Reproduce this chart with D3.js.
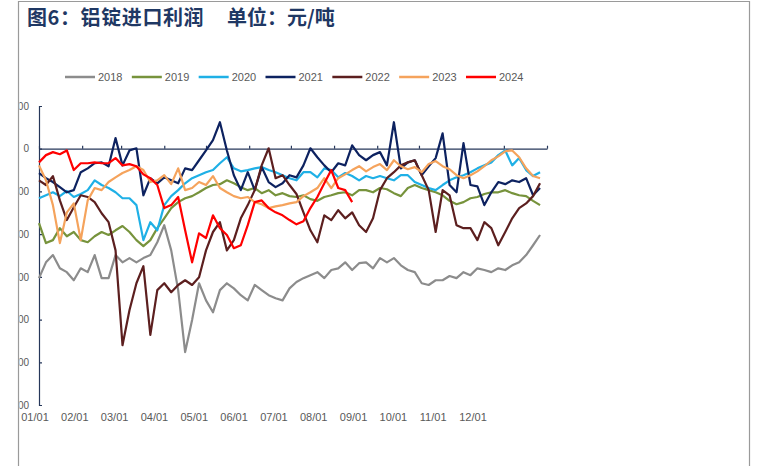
<!DOCTYPE html>
<html><head><meta charset="utf-8">
<script src="https://cdn.jsdelivr.net/npm/d3@7"></script>
<style>body{margin:0;background:#fff;} svg{display:block;}</style>
</head><body><svg id="c" width="759" height="466"></svg>
<script>
// ---------------- data ----------------
const years = ["2018","2019","2020","2021","2022","2023","2024"];
const seriesColors = ["#8c8c8c","#77933c","#1fb0e6","#0d2260","#5c1f1f","#f5a35c","#ff0000"];
const monthLabels = ["01/01","02/01","03/01","04/01","05/01","06/01","07/01","08/01","09/01","10/01","11/01","12/01"];
const yTickValues = [1000,0,-1000,-2000,-3000,-4000,-5000,-6000];
const stepDays = 5; // one value every 5 calendar days from 01/01

const v2018 = [-3030,-2660,-2490,-2800,-2890,-3080,-2800,-2890,-2490,-3030,-3030,-2490,-2660,-2560,-2660,-2560,-2490,-2190,-1790,-2380,-3310,-4760,-4010,-3150,-3550,-3830,-3310,-3150,-3270,-3430,-3550,-3190,-3310,-3430,-3500,-3550,-3270,-3120,-3030,-2960,-2890,-3030,-2840,-2800,-2660,-2840,-2680,-2660,-2800,-2560,-2660,-2560,-2730,-2840,-2890,-3150,-3190,-3080,-3080,-2980,-3030,-2890,-2960,-2800,-2840,-2890,-2800,-2840,-2730,-2660,-2490,-2260,-2020];
const v2019 = [-1740,-2210,-2140,-1860,-2050,-1950,-2140,-2190,-2050,-1950,-2020,-1910,-1810,-1950,-2140,-2280,-2140,-1860,-1630,-1390,-1250,-1160,-1110,-1020,-920,-850,-830,-740,-810,-900,-970,-920,-1040,-970,-1090,-1040,-1110,-1130,-1090,-1180,-1220,-1130,-1090,-1040,-1020,-1090,-970,-970,-1020,-920,-950,-1040,-1110,-920,-850,-920,-970,-1020,-1090,-1220,-1300,-1250,-1160,-1130,-1060,-1020,-1020,-970,-1040,-1090,-1110,-1220,-1320];
const v2020 = [-1160,-1090,-1020,-1110,-990,-1130,-1060,-970,-740,-850,-920,-1020,-1160,-1160,-1320,-2140,-1720,-1910,-1320,-1110,-970,-810,-690,-620,-550,-500,-340,-200,-460,-530,-500,-460,-430,-500,-550,-620,-690,-740,-550,-550,-670,-460,-500,-670,-570,-640,-740,-640,-690,-640,-690,-740,-620,-620,-780,-850,-920,-970,-850,-740,-670,-620,-550,-460,-390,-320,-150,-40,-390,-220,-500,-640,-550];
const v2021 = [-570,-690,-780,-900,-1020,-970,-550,-460,-340,-320,-410,250,-390,-40,10,-1090,-690,-810,-670,-740,-810,-460,-500,-270,-40,200,620,-40,-620,-970,-550,-970,-430,-780,-900,-810,-620,-670,-390,10,-200,-390,-550,-340,-390,80,-150,-270,-150,-80,-390,620,-460,-320,-270,-620,-410,-220,360,-850,-1020,130,-850,-880,-1320,-1020,-780,-830,-740,-780,-690,-1090,-920];
const v2022 = [-740,-850,-640,-1210,-1670,-1370,-1090,-1130,-1250,-1510,-1720,-2380,-4600,-3780,-3150,-2750,-4360,-3310,-3150,-3360,-3190,-3080,-3190,-3010,-2380,-1950,-1720,-2380,-2140,-1630,-1320,-970,-390,10,-690,-620,-850,-1060,-1490,-1910,-2190,-1560,-1670,-1440,-1630,-1490,-1790,-1950,-1630,-970,-690,-550,-390,-320,-270,-620,-970,-1950,-970,-1090,-1790,-1860,-1860,-2140,-1720,-1860,-2260,-1950,-1630,-1390,-1280,-1110,-810];
const v2023 = [-390,-740,-1320,-2210,-1490,-1280,-2140,-1210,-920,-970,-780,-670,-570,-500,-410,-500,-780,-740,-620,-830,-460,-970,-920,-780,-850,-640,-920,-1020,-1110,-1160,-1130,-1250,-1300,-1390,-1350,-1320,-1280,-1250,-1110,-1020,-920,-690,-920,-690,-600,-500,-410,-530,-430,-360,-500,-270,-410,-480,-430,-550,-360,-290,-410,-480,-620,-690,-620,-530,-410,-270,-180,-60,-40,-200,-460,-640,-690];
const v2024 = [-320,-150,-80,-130,-40,-500,-340,-340,-320,-340,-340,-220,-390,-360,-410,-600,-690,-850,-1390,-1320,-1130,-1910,-2660,-1980,-2090,-1560,-1860,-2020,-2330,-2260,-1790,-1250,-1210,-1390,-1490,-1560,-1670,-1770,-1700,-1390,-1130,-810,-500,-920,-970,-1250];
const seriesValues = [v2018,v2019,v2020,v2021,v2022,v2023,v2024];

// ---------------- chart ----------------
const svg = d3.select("#c");
const W = 759, H = 466;
const axisColor = "#26375a";
const textColor = "#595959";

// outer frame
svg.append("path")
  .attr("d", `M18.5,${H+5} L18.5,1.5 L749.5,1.5 L749.5,${H+5}`)
  .attr("fill","none").attr("stroke","#9a9a9a").attr("stroke-width",1.2);

// title
const title = svg.append("text").attr("y",25)
  .attr("font-family","'Noto Sans CJK SC', sans-serif").attr("font-weight","bold")
  .attr("font-size",20).attr("fill","#1f3864");
title.append("tspan").attr("x",27).attr("letter-spacing",0.6).text("图6：铝锭进口利润");
title.append("tspan").attr("x",227).text("单位：元/吨");

// scales
const t0 = new Date(2023,0,1), t1 = new Date(2024,0,1);
const x = d3.scaleTime().domain([t0,t1]).range([39,547]);
const y = d3.scaleLinear().domain([-6000,1000]).range([405,106]);
const labelX = d3.scalePoint().domain(monthLabels).range([35,473]);

// clip for y tick labels (cut by the frame line)
svg.append("clipPath").attr("id","lclip").append("rect")
  .attr("x",19.5-39).attr("y",0).attr("width",W).attr("height",H);

// y axis
const yAxisG = svg.append("g").attr("transform","translate(39,0)")
  .attr("clip-path","url(#lclip)")
  .call(d3.axisLeft(y).tickValues(yTickValues).tickSizeInner(-3).tickSizeOuter(-3)
        .tickPadding(10).tickFormat(d => String(d)));
yAxisG.select(".domain").attr("stroke",axisColor).attr("stroke-width",1.2);
yAxisG.selectAll(".tick line").attr("stroke",axisColor).attr("stroke-width",1.2);
yAxisG.selectAll(".tick text").attr("fill",textColor)
  .attr("font-family","'Liberation Sans', Arial, sans-serif").attr("font-size",10);

// x axis along zero
const monthTicks = d3.timeMonth.range(t0, d3.timeDay.offset(t1,1));
const xAxisG = svg.append("g").attr("transform",`translate(0,${y(0)})`)
  .call(d3.axisBottom(x).tickValues(monthTicks).tickSizeInner(-3).tickSizeOuter(0).tickFormat(""));
xAxisG.select(".domain").attr("stroke",axisColor).attr("stroke-width",1.2);
xAxisG.selectAll(".tick line").attr("stroke",axisColor).attr("stroke-width",1.2);

// x labels at bottom
svg.append("g").selectAll("text").data(monthLabels).join("text")
  .attr("x", d => labelX(d)).attr("y",421).attr("text-anchor","middle")
  .attr("font-family","'Liberation Sans', Arial, sans-serif").attr("font-size",11)
  .attr("fill",textColor).text(d => d);

// lines
const line = d3.line()
  .x((d,i) => x(d3.timeDay.offset(t0, i*stepDays)))
  .y(d => y(d));
svg.append("g").selectAll("path").data(seriesValues).join("path")
  .attr("d", d => line(d))
  .attr("fill","none")
  .attr("stroke", (d,i) => seriesColors[i])
  .attr("stroke-width",2.2)
  .attr("stroke-linejoin","round");

// legend
const legX = d3.scalePoint().domain(years).range([65,466]);
const leg = svg.append("g").selectAll("g").data(years).join("g")
  .attr("transform", d => `translate(${legX(d)},77)`);
leg.append("line").attr("x1",0).attr("x2",30).attr("y1",0).attr("y2",0)
  .attr("stroke",(d,i)=>seriesColors[i]).attr("stroke-width",2.5);
leg.append("text").attr("x",33).attr("y",4)
  .attr("font-family","'Liberation Sans', Arial, sans-serif").attr("font-size",11)
  .attr("fill",textColor).text(d => d);
</script></body></html>
